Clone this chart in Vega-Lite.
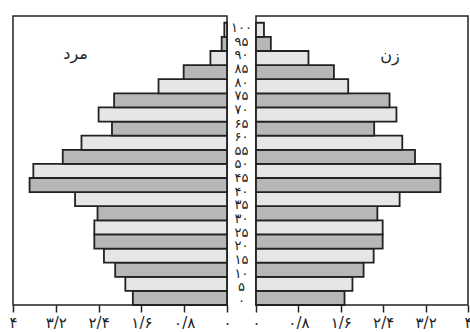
{
  "$schema": "https://vega.github.io/schema/vega-lite/v6.json",
  "padding": {"left": 8, "top": 15, "right": 0, "bottom": 0},
  "spacing": 0,
  "bounds": "flush",
  "background": "white",
  "config": {
    "view": {"stroke": "#222", "strokeWidth": 1.5},
    "font": "DejaVu Sans",
    "axisX": {
      "grid": false,
      "domain": false,
      "ticks": true,
      "tickSize": 7,
      "tickColor": "#222",
      "tickWidth": 1.5,
      "labelFontSize": 15,
      "labelColor": "#222",
      "labelFont": "DejaVu Sans",
      "labelPadding": 3,
      "labelFlush": false,
      "title": null
    }
  },
  "datasets": {
    "pop": [
      {"age_start": 0, "age_end": 5, "male": 1.76, "female": 1.67},
      {"age_start": 5, "age_end": 10, "male": 1.90, "female": 1.82},
      {"age_start": 10, "age_end": 15, "male": 2.09, "female": 2.03},
      {"age_start": 15, "age_end": 20, "male": 2.30, "female": 2.22},
      {"age_start": 20, "age_end": 25, "male": 2.48, "female": 2.39},
      {"age_start": 25, "age_end": 30, "male": 2.48, "female": 2.39},
      {"age_start": 30, "age_end": 35, "male": 2.42, "female": 2.29},
      {"age_start": 35, "age_end": 40, "male": 2.84, "female": 2.71},
      {"age_start": 40, "age_end": 45, "male": 3.69, "female": 3.48},
      {"age_start": 45, "age_end": 50, "male": 3.62, "female": 3.48},
      {"age_start": 50, "age_end": 55, "male": 3.07, "female": 3.00},
      {"age_start": 55, "age_end": 60, "male": 2.72, "female": 2.76},
      {"age_start": 60, "age_end": 65, "male": 2.15, "female": 2.23},
      {"age_start": 65, "age_end": 70, "male": 2.40, "female": 2.65},
      {"age_start": 70, "age_end": 75, "male": 2.11, "female": 2.52},
      {"age_start": 75, "age_end": 80, "male": 1.28, "female": 1.74},
      {"age_start": 80, "age_end": 85, "male": 0.81, "female": 1.47},
      {"age_start": 85, "age_end": 90, "male": 0.31, "female": 0.99},
      {"age_start": 90, "age_end": 95, "male": 0.10, "female": 0.28},
      {"age_start": 95, "age_end": 100, "male": 0.05, "female": 0.15}
    ],
    "ages": [
      {"age": 0, "label": "۰"},
      {"age": 5, "label": "۵"},
      {"age": 10, "label": "۱۰"},
      {"age": 15, "label": "۱۵"},
      {"age": 20, "label": "۲۰"},
      {"age": 25, "label": "۲۵"},
      {"age": 30, "label": "۳۰"},
      {"age": 35, "label": "۳۵"},
      {"age": 40, "label": "۴۰"},
      {"age": 45, "label": "۴۵"},
      {"age": 50, "label": "۵۰"},
      {"age": 55, "label": "۵۵"},
      {"age": 60, "label": "۶۰"},
      {"age": 65, "label": "۶۵"},
      {"age": 70, "label": "۷۰"},
      {"age": 75, "label": "۷۵"},
      {"age": 80, "label": "۸۰"},
      {"age": 85, "label": "۸۵"},
      {"age": 90, "label": "۹۰"},
      {"age": 95, "label": "۹۵"},
      {"age": 100, "label": "۱۰۰"}
    ]
  },
  "hconcat": [
    {
      "width": 214,
      "height": 289,
      "layer": [
        {
          "data": {"name": "pop"},
          "mark": {"type": "rect", "stroke": "#222", "strokeWidth": 1.8},
          "encoding": {
            "x": {"field": "male", "type": "quantitative", "scale": {"domain": [0, 4], "reverse": true, "nice": false},
                  "axis": {"values": [0, 0.8, 1.6, 2.4, 3.2, 4], "labelExpr": "replace(replace(replace(replace(replace(replace(replace(replace(replace(replace(replace(format(datum.value,'.1~f'),'.','/'),'0','۰'),'1','۱'),'2','۲'),'3','۳'),'4','۴'),'5','۵'),'6','۶'),'7','۷'),'8','۸'),'9','۹')"}},
            "x2": {"datum": 0},
            "y": {"field": "age_start", "type": "quantitative", "scale": {"domain": [0, 102.4], "nice": false}, "axis": null},
            "y2": {"field": "age_end"},
            "fill": {"condition": {"test": "datum.age_start % 10 === 0", "value": "#b6b7b9"}, "value": "#e5e6e7"}
          }
        },
        {
          "data": {"values": [{"sex": "مرد"}]},
          "mark": {"type": "text", "fontSize": 16, "color": "#222"},
          "encoding": {
            "x": {"datum": 2.83, "type": "quantitative"},
            "y": {"datum": 89, "type": "quantitative"},
            "text": {"field": "sex"}
          }
        }
      ]
    },
    {
      "width": 29,
      "height": 289,
      "view": {"stroke": null},
      "data": {"name": "ages"},
      "mark": {"type": "text", "fontSize": 13, "color": "#222"},
      "encoding": {
        "y": {"field": "age", "type": "quantitative", "scale": {"domain": [-1.47, 104.4], "nice": false, "zero": false}, "axis": null},
        "text": {"field": "label"}
      }
    },
    {
      "width": 212,
      "height": 289,
      "layer": [
        {
          "data": {"name": "pop"},
          "mark": {"type": "rect", "stroke": "#222", "strokeWidth": 1.8},
          "encoding": {
            "x": {"field": "female", "type": "quantitative", "scale": {"domain": [0, 4], "nice": false},
                  "axis": {"values": [0, 0.8, 1.6, 2.4, 3.2, 4], "labelExpr": "replace(replace(replace(replace(replace(replace(replace(replace(replace(replace(replace(format(datum.value,'.1~f'),'.','/'),'0','۰'),'1','۱'),'2','۲'),'3','۳'),'4','۴'),'5','۵'),'6','۶'),'7','۷'),'8','۸'),'9','۹')"}},
            "x2": {"datum": 0},
            "y": {"field": "age_start", "type": "quantitative", "scale": {"domain": [0, 102.4], "nice": false}, "axis": null},
            "y2": {"field": "age_end"},
            "fill": {"condition": {"test": "datum.age_start % 10 === 0", "value": "#b6b7b9"}, "value": "#e5e6e7"}
          }
        },
        {
          "data": {"values": [{"sex": "زن"}]},
          "mark": {"type": "text", "fontSize": 16, "color": "#222"},
          "encoding": {
            "x": {"datum": 2.53, "type": "quantitative"},
            "y": {"datum": 88.2, "type": "quantitative"},
            "text": {"field": "sex"}
          }
        }
      ]
    }
  ]
}
